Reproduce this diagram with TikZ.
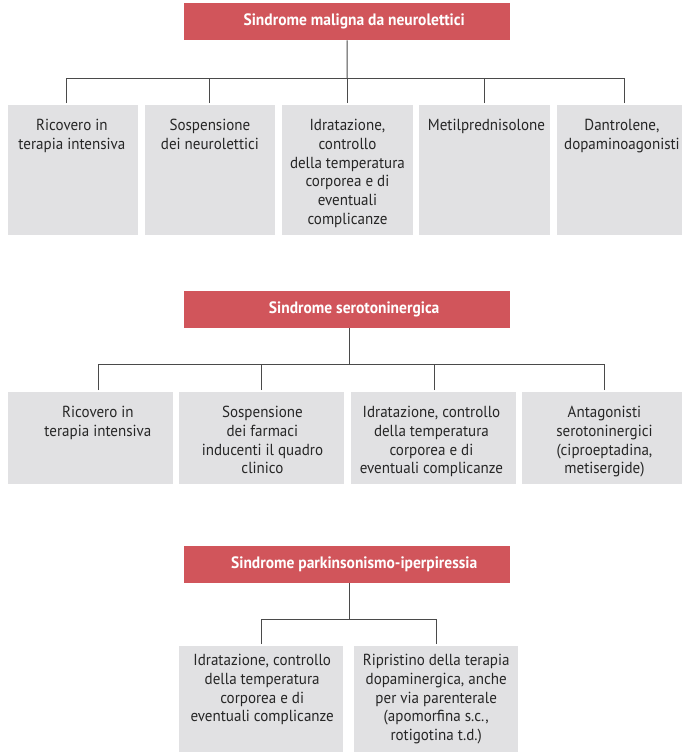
\documentclass[tikz,border=0pt]{standalone}
\usepackage{fontspec}
\setmainfont[FakeStretch=0.94]{PT Sans}
\usetikzlibrary{positioning}

\definecolor{rosso}{HTML}{D1555B}
\definecolor{grigio}{HTML}{E1E1E3}
\definecolor{filo}{HTML}{4A4A4A}

\tikzset{
  sindrome/.style={fill=rosso, minimum width=326pt, minimum height=37pt, inner sep=0pt, anchor=north west},
  titolo/.style={text=white, font=\bfseries\fontsize{16.5}{19}\selectfont, inner sep=0pt, anchor=center, xshift=7pt},
  cura/.style={fill=grigio, anchor=north west, inner sep=0pt, minimum width=#1},
  voce/.style={text=black!85, font=\fontsize{16}{18.8}\selectfont, align=center, inner sep=0pt, anchor=north},
  tronco/.style={draw=filo, line width=1pt},
  ramo/.style={draw=filo, line width=1pt, shorten <=2pt},
}

\begin{document}
\begin{tikzpicture}[x=1pt, y=-1pt]
\useasboundingbox (0,0) rectangle (682,752);

% sindrome maligna da neurolettici
\node[sindrome, label={[titolo]center:Sindrome maligna da neurolettici}] (s1) at (184,3) {};
\coordinate (j1) at (347,78);
\node[cura=130.5pt, minimum height=130pt, label={[voce, xshift=-1pt, yshift=-14pt]north:{Ricovero in\\terapia intensiva}}] (m1) at (7.5,105) {};
\node[cura=130.5pt, minimum height=130pt, label={[voce, yshift=-14pt]north:{Sospensione\\dei neurolettici}}] (m2) at (144.5,105) {};
\node[cura=130.5pt, minimum height=130pt, label={[voce, yshift=-14pt]north:{Idratazione,\\controllo\\della temperatura\\corporea e di\\eventuali\\complicanze}}] (m3) at (282,105) {};
\node[cura=130.5pt, minimum height=130pt, label={[voce, xshift=2pt, yshift=-14pt]north:{Metilprednisolone}}] (m4) at (419,105) {};
\node[cura=130.5pt, minimum height=130pt, label={[voce, yshift=-14pt]north:{Dantrolene,\\dopaminoagonisti}}] (m5) at (556.5,105) {};
\draw[tronco] (s1) -- (j1);
\draw[ramo] ([xshift=-6pt]m1.north) |- (j1);
\draw[ramo] (m2.north) |- (j1);
\draw[ramo] (m3.north) |- (j1);
\draw[ramo] (m4.north) |- (j1);
\draw[ramo] ([xshift=3pt]m5.north) |- (j1);

% sindrome serotoninergica
\node[sindrome, label={[titolo]center:Sindrome serotoninergica}] (s2) at (184,291) {};
\coordinate (j2) at (349,364);
\node[cura=164.5pt, minimum height=92pt, label={[voce, xshift=7.5pt, yshift=-14pt]north:{Ricovero in\\terapia intensiva}}] (n1) at (8,392) {};
\node[cura=164.5pt, minimum height=92pt, label={[voce, xshift=1pt, yshift=-14pt]north:{Sospensione\\dei farmaci\\inducenti il quadro\\clinico}}] (n2) at (179,392) {};
\node[cura=164.5pt, minimum height=92pt, label={[voce, xshift=-2pt, yshift=-14pt]north:{Idratazione, controllo\\della temperatura\\corporea e di\\eventuali complicanze}}] (n3) at (351,392) {};
\node[cura=164.5pt, minimum height=92pt, label={[voce, yshift=-14pt]north:{Antagonisti\\serotoninergici\\(ciproeptadina,\\metisergide)}}] (n4) at (522,392) {};
\draw[tronco] (s2.south -| j2) -- (j2);
\draw[ramo] ([xshift=8pt]n1.north) |- (j2);
\draw[ramo] (n2.north) |- (j2);
\draw[ramo] ([xshift=1pt]n3.north) |- (j2);
\draw[ramo] (n4.north) |- (j2);

% sindrome parkinsonismo-iperpiressia
\node[sindrome, label={[titolo]center:Sindrome parkinsonismo-iperpiressia}] (s3) at (184,546) {};
\coordinate (j3) at (349,619);
\node[cura=164pt, minimum height=110pt, label={[voce, xshift=1pt, yshift=-8pt]north:{Idratazione, controllo\\della temperatura\\corporea e di\\eventuali complicanze}}] (p1) at (179,646) {};
\node[cura=164pt, minimum height=110pt, label={[voce, yshift=-8pt]north:{Ripristino della terapia\\dopaminergica, anche\\per via parenterale\\(apomorfina s.c.,\\rotigotina t.d.)}}] (p2) at (354,646) {};
\draw[tronco] (s3.south -| j3) -- (j3);
\draw[ramo] (p1.north) |- (j3);
\draw[ramo] (p2.north) |- (j3);
\end{tikzpicture}
\end{document}
